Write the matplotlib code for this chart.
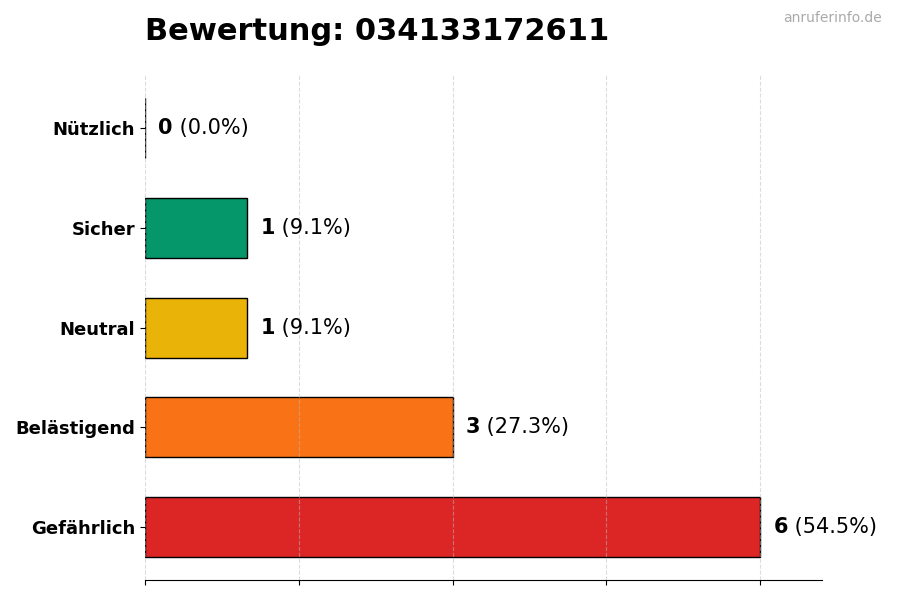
import numpy as np
import matplotlib.pyplot as plt

categories = ['Gefährlich', 'Belästigend', 'Neutral', 'Sicher', 'Nützlich']
counts = [6, 3, 1, 1, 0]
colors = ['#DC2626', '#F97316', '#EAB308', '#059669', '#10B981']
title = 'Bewertung: 034133172611'

total = sum(counts)
fig = plt.figure(figsize=(9, 6), dpi=100)
ax = fig.add_axes([0.161, 0.033, 0.752, 0.842])

y = np.arange(len(categories))
ax.barh(y, counts, height=0.6, color=colors, edgecolor='black', linewidth=1, zorder=2)
ax.set_yticks(y)
ax.set_yticklabels(categories, fontsize=13, fontweight='bold')
ax.set_xlim(0, max(counts) * 1.1)
ax.set_xticks(np.linspace(0, max(counts), 5))
ax.set_xticklabels([])
ax.set_axisbelow(False)
ax.grid(axis='x', linestyle='--', color='#bbbbbb', alpha=0.5, linewidth=0.8, zorder=3)
for s in ['top', 'right', 'left']:
    ax.spines[s].set_visible(False)

fig.text(0.161, 0.948, title, fontsize=22, fontweight='bold', ha='left', va='center')
fig.text(0.98, 0.97, 'anruferinfo.de', fontsize=10, color='#aaaaaa', ha='right', va='center')

fig.canvas.draw()
r = fig.canvas.get_renderer()
for yi, c in zip(y, counts):
    t = ax.annotate(str(c), (c, yi), xytext=(9.5, 0), textcoords='offset points',
                    fontsize=15, fontweight='bold', va='center', ha='left')
    bb = t.get_window_extent(renderer=r)
    pct = ' (%.1f%%)' % (100.0 * c / total)
    ax.annotate(pct, ((bb.x1), (bb.y0 + bb.y1) / 2), xycoords='figure pixels',
                fontsize=15, va='center', ha='left')

fig.savefig('out.png', dpi=100)
